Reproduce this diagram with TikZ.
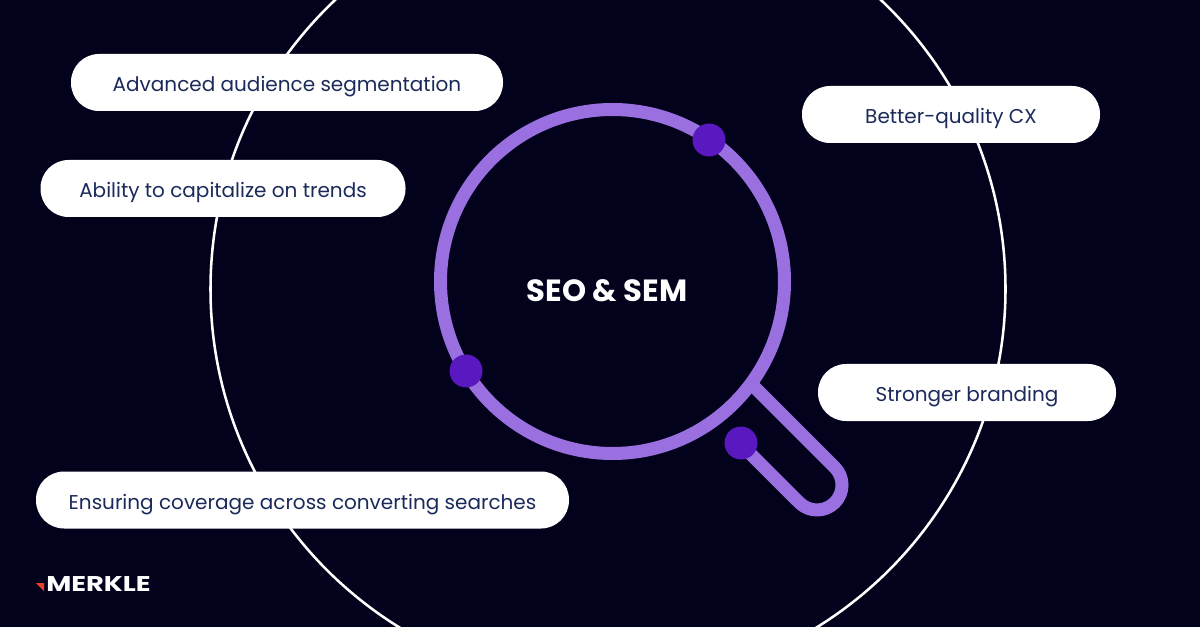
\documentclass[tikz,border=0pt]{standalone}
\usepackage{fontspec}
\setmainfont{Poppins}
\definecolor{nightbg}{HTML}{03021C}
\definecolor{lensline}{HTML}{9A6FE0}
\definecolor{lensdot}{HTML}{5A18C0}
\definecolor{pilltext}{HTML}{1B2A5A}
\definecolor{logored}{HTML}{E8412A}
\tikzset{
  pill/.style={fill=white,rounded corners=28*.75pt,minimum height=57*.75pt,inner sep=0pt,text=pilltext,text height=14pt,text depth=.5pt,font=\fontsize{15}{18}\selectfont},
  lensdot/.style={circle,fill=lensdot,minimum size=33*.75pt,inner sep=0pt},
}
\begin{document}
\begin{tikzpicture}[x=.75pt,y=-.75pt,line join=round,line cap=round]
  \fill[nightbg] (0,0) rectangle (1200,627);
  \useasboundingbox (0,0) rectangle (1200,627);
  \clip (0,0) rectangle (1200,627);
  % outer circle
  \draw[white,line width=1.9pt] (608,289) circle[radius=397.5];
  % handle and lens
  \draw[lensline,line width=9.75pt,line cap=butt] (752.4,385)--(834.7,467.3) arc[start angle=-45,end angle=135,radius=25]--(742,445.4);
  \draw[lensline,line width=9.75pt] (612.5,281.5) circle[radius=172];
  \node[lensdot] (dotA) at (709,140) {};
  \node[lensdot] (dotB) at (466,371) {};
  \node[lensdot] (dotC) at (741,443) {};
  \node[text=white,font=\fontsize{23}{27}\bfseries\selectfont] (title) at (607,291) {SEO \& SEM};
  % pills
  \node[pill,minimum width=432*.75pt] (audience) at (287,82.5) {Advanced audience segmentation};
  \node[pill,minimum width=365*.75pt] (trends) at (223,188.5) {Ability to capitalize on trends};
  \node[pill,minimum width=298*.75pt] (quality) at (951,114.5) {Better-quality CX};
  \node[pill,minimum width=298*.75pt] (branding) at (967,392.5) {Stronger branding};
  \node[pill,minimum width=533*.75pt] (coverage) at (302.5,500) {Ensuring coverage across converting searches};
  % logo
  \fill[logored] (36,583)--(44,583)--(44,591)--cycle;
  \node[text=white,font=\fontsize{16}{18}\bfseries\selectfont,anchor=west,inner sep=0pt] (logo) at (46,584) {\scalebox{1.28}[1]{MERKLE}};
\end{tikzpicture}
\end{document}
